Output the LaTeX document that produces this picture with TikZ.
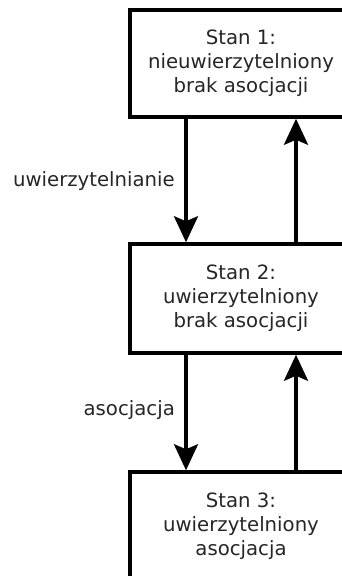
\documentclass[tikz,border=0pt]{standalone}
\usepackage{fontspec}
\setmainfont{DejaVu Sans}
\usetikzlibrary{arrows.meta}
\begin{document}
\begin{tikzpicture}[x=1pt,y=1pt,
  statebox/.style={draw=black, line width=3.5pt, fill=white, minimum width=222pt,
    align=center, text=black!85, inner sep=0pt,
    font=\fontsize{19.7}{24}\selectfont},
  edgelabel/.style={anchor=east, text=black!85, inner sep=0pt,
    font=\fontsize{19.7}{24}\selectfont},
  flow/.style={line width=3.5pt, -{Stealth[length=26pt, width=24pt, inset=5pt]}}]
  \useasboundingbox (0,0) rectangle (341,-576);

  % the three states
  \node[statebox, minimum height=107pt] (s1) at (241,-63.5)
    {Stan 1:\\nieuwierzytelniony\\brak asocjacji};
  \node[statebox, minimum height=109pt] (s2) at (241,-298.5)
    {Stan 2:\\uwierzytelniony\\brak asocjacji};
  \node[statebox, minimum height=108pt] (s3) at (241,-526)
    {Stan 3:\\uwierzytelniony\\asocjacja};

  % columns of the forward and backward transitions
  \coordinate (fwd) at (186,0);
  \coordinate (bwd) at (296,0);

  % transitions between the states
  \draw[flow] (s1.south -| fwd) -- (s2.north -| fwd);
  \draw[flow] (s2.north -| bwd) -- (s1.south -| bwd);
  \draw[flow] (s2.south -| fwd) -- (s3.north -| fwd);
  \draw[flow] (s3.north -| bwd) -- (s2.south -| bwd);

  % transition labels
  \node[edgelabel] (l1) at (175,-181) {uwierzytelnianie};
  \node[edgelabel] (l2) at (175,-410) {asocjacja};
\end{tikzpicture}
\end{document}
